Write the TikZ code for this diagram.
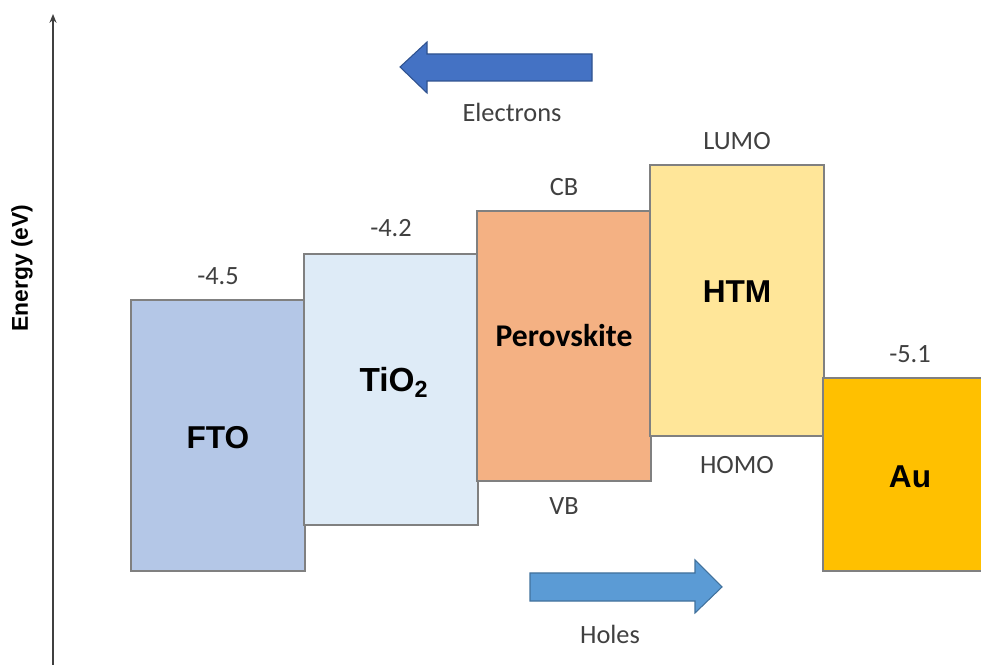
\documentclass[tikz,border=0pt]{standalone}
\usepackage{fontspec}
\setmainfont{Carlito}
\newfontfamily\arialfont{Liberation Sans}
\usetikzlibrary{positioning,arrows.meta}

\definecolor{ftoblue}{HTML}{B4C7E7}
\definecolor{tioblue}{HTML}{DEEBF7}
\definecolor{perovorange}{HTML}{F4B183}
\definecolor{htmyellow}{HTML}{FFE699}
\definecolor{augold}{HTML}{FFC000}
\definecolor{edgegray}{HTML}{808080}
\definecolor{labelgray}{HTML}{404040}
\definecolor{elecblue}{HTML}{4472C4}
\definecolor{elecedge}{HTML}{2F528F}
\definecolor{holeblue}{HTML}{5B9BD5}
\definecolor{holeedge}{HTML}{41719C}

\tikzset{
  layer/.style={draw=edgegray, line width=0.9pt, minimum width=3.48cm, inner sep=0pt},
  boxtext/.style={font=\arialfont\bfseries\fontsize{18}{20}\selectfont, inner sep=0pt},
  lbl/.style={font=\fontsize{15}{17}\selectfont, text=labelgray, inner sep=0pt},
}

\begin{document}
\begin{tikzpicture}[x=0.02cm, y=-0.02cm]
    \useasboundingbox (0,0) rectangle (981,665);
    \clip (0,0) rectangle (981,665);
    % energy axis
    \coordinate (axbot) at (53,675);
    \coordinate (axtop) at (53,14);
    \draw[labelgray, line width=0.8pt, -{Stealth[length=5pt, width=4pt]}] (axbot) -- (axtop);
    \node[rotate=90, font=\arialfont\bfseries\fontsize{13}{15}\selectfont] (energy) at (22,268) {Energy (eV)};

    % layers
    \node[layer, fill=ftoblue, minimum height=5.42cm,
          label={[boxtext, yshift=-0.05cm]center:FTO}] (fto) at (218,435.5) {};
    \node[layer, fill=tioblue, minimum height=5.42cm,
          label={[boxtext, font=\arialfont\bfseries\fontsize{19}{21}\selectfont, xshift=0.06cm, yshift=0.14cm]center:TiO\textsubscript{2}}] (tio) at (391,389.5) {};
    \node[layer, fill=perovorange, minimum height=5.40cm,
          label={[boxtext, font=\bfseries\fontsize{18}{20}\selectfont, yshift=0.2cm]center:Perovskite}] (perov) at (564,346) {};
    \node[layer, fill=htmyellow, minimum height=5.42cm,
          label={[boxtext, yshift=0.17cm]center:HTM}] (htm) at (737,300.5) {};
    \node[layer, fill=augold, minimum height=3.86cm,
          label={[boxtext, yshift=-0.05cm]center:Au}] (au) at (910,474.5) {};

    % level labels
    \node[lbl, above=8pt of fto] (ftolvl) {-4.5};
    \node[lbl, above=9pt of tio] (tiolvl) {-4.2};
    \node[lbl, above=8pt of perov] (cb) {CB};
    \node[lbl, below=9pt of perov] (vb) {VB};
    \node[lbl, above=8pt of htm] (lumo) {LUMO};
    \node[lbl, below=11pt of htm] (homo) {HOMO};
    \node[lbl, above=8pt of au] (aulvl) {-5.1};

    % carrier flow
    \filldraw[fill=elecblue, draw=elecedge, line width=0.6pt]
        (592,54) -- (427,54) -- (427,42) -- (400,67) -- (427,93) -- (427,81) -- (592,81) -- cycle;
    \node[lbl] (elec) at (512,112) {Electrons};
    \filldraw[fill=holeblue, draw=holeedge, line width=0.6pt]
        (530,573) -- (695,573) -- (695,560) -- (722,587) -- (695,613) -- (695,601) -- (530,601) -- cycle;
    \node[lbl] (holes) at (610,634) {Holes};
\end{tikzpicture}
\end{document}
